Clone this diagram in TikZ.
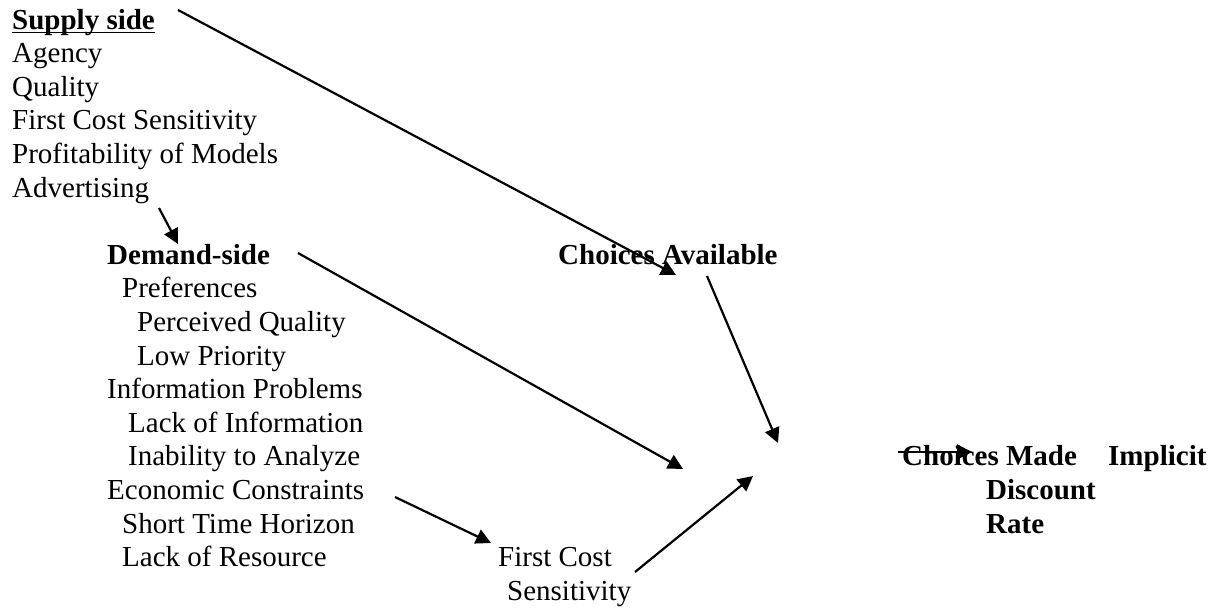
\documentclass[tikz,border=0pt]{standalone}
\usepackage{fontspec}
\setmainfont{Liberation Serif}
\usetikzlibrary{arrows.meta}
\tikzset{
  txt/.style={anchor=base west, inner sep=0pt, font=\fontsize{29pt}{33.6pt}\selectfont},
  btxt/.style={anchor=base west, inner sep=0pt, font=\fontsize{29pt}{33.6pt}\selectfont\bfseries},
  arr/.style={-{Triangle[length=15pt,width=15pt]}, line width=2.2pt, black},
}
\begin{document}
\begin{tikzpicture}[x=1pt,y=-1pt]
\useasboundingbox (0,0) rectangle (1212,611);
% supply side
\node[btxt] (sup) at (12,{29}) {Supply side};
\draw[line width=1.6pt] ([yshift=-3.5pt]sup.base west) -- ([yshift=-3.5pt]sup.base east);
\node[txt] (ag) at (12,{29+33.6*1}) {Agency};
\node[txt] (qu) at (12,{29+33.6*2}) {Quality};
\node[txt] (fcs) at (12,{29+33.6*3}) {First Cost Sensitivity};
\node[txt] (pm) at (12,{29+33.6*4}) {Profitability of Models};
\node[txt] (adv) at (12,{29+33.6*5}) {Advertising};
% demand side
\node[btxt] (dem) at (107,{29+33.6*7}) {Demand-side};
\node[txt] (pref) at (122,{29+33.6*8}) {Preferences};
\node[txt] (pq) at (137,{29+33.6*9}) {Perceived Quality};
\node[txt] (lp) at (137,{29+33.6*10}) {Low Priority};
\node[txt] (ip) at (107,{29+33.6*11}) {Information Problems};
\node[txt] (li) at (128,{29+33.6*12}) {Lack of Information};
\node[txt] (ia) at (128,{29+33.6*13}) {Inability to Analyze};
\node[txt] (ec) at (107,{29+33.6*14}) {Economic Constraints};
\node[txt] (st) at (122,{29+33.6*15}) {Short Time Horizon};
\node[txt] (lr) at (122,{29+33.6*16}) {Lack of Resource};
% first cost
\node[txt] (fc1) at (498,{29+33.6*16}) {First Cost};
\node[txt] (fc2) at (507,{29+33.6*17}) {Sensitivity};
% choices
\node[btxt] (ca) at (558,{29+33.6*7}) {Choices Available};
\node[btxt] (cm) at (902,{29+33.6*13}) {Choices Made};
\node[btxt] (imp) at (1108,{29+33.6*13}) {Implicit};
\node[btxt] (dis) at (986,{29+33.6*14}) {Discount};
\node[btxt] (rate) at (986,{29+33.6*15}) {Rate};
% arrow endpoints
\coordinate (s1) at (178,10);   \coordinate (e1) at (676,275);
\coordinate (s2) at (159,208);  \coordinate (e2) at (178,244);
\coordinate (s3) at (298,253);  \coordinate (e3) at (683,469);
\coordinate (s4) at (707,276);  \coordinate (e4) at (778,443);
\coordinate (s5) at (395,497);  \coordinate (e5) at (491,543);
\coordinate (s6) at (635,572);  \coordinate (e6) at (753,476);
\coordinate (s7) at (898,452);  \coordinate (e7) at (972,452);
\draw[arr] (s1) -- (e1);
\draw[arr] (s2) -- (e2);
\draw[arr] (s3) -- (e3);
\draw[arr] (s4) -- (e4);
\draw[arr] (s5) -- (e5);
\draw[arr] (s6) -- (e6);
\draw[arr] (s7) -- (e7);
\end{tikzpicture}
\end{document}
